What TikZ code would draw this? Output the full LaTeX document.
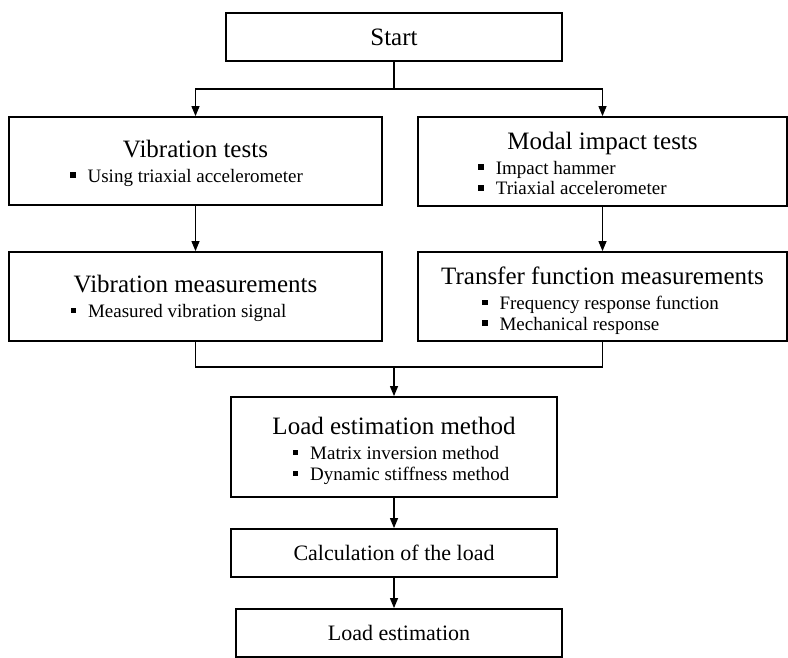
\documentclass[tikz,border=0pt]{standalone}
\usepackage{fontspec}
\setmainfont{Liberation Serif}
\usetikzlibrary{arrows.meta}
\newcommand\headsize{\fontsize{25}{28}\selectfont}
\newcommand\plainsize{\fontsize{22}{25}\selectfont}
\newcommand\pointsize{\fontsize{19}{22}\selectfont}
\newcommand\sqpoint{\rule[0.22em]{5.5pt}{5.5pt}\hspace{12pt}}
\newcommand\pointlist[2][0pt]{\hspace*{#1}\raisebox{0pt}[\height][\dimexpr\depth-10pt\relax]{\pointsize\renewcommand\arraystretch{0.95}\begin{tabular}[t]{@{}l@{}}#2\end{tabular}}}
\begin{document}
\begin{tikzpicture}[x=1pt,y=-1pt]
\tikzset{
  block/.style={draw, line width=1.8pt, inner sep=0pt, align=center, font=\headsize},
  link/.style={line width=1.2pt},
  arr/.style={link, -{Triangle[length=10pt,width=8pt]}}
}
\useasboundingbox (0,0) rectangle (788,658);
\node[block, minimum width=336, minimum height=48] (start) at (394,37) {Start};
\node[block, minimum width=373, minimum height=88] (vt) at (195.5,161) {Vibration tests\\[-3pt]\pointlist[-18pt]{\sqpoint Using triaxial accelerometer}};
\node[block, minimum width=369, minimum height=89] (mi) at (602.5,161.5) {Modal impact tests\\[-3pt]\pointlist[-60pt]{\sqpoint Impact hammer\\ \sqpoint Triaxial accelerometer}};
\node[block, minimum width=373, minimum height=89] (vm) at (195.5,296.5) {Vibration measurements\\[-3pt]\pointlist[-34pt]{\sqpoint Measured vibration signal}};
\node[block, minimum width=369, minimum height=89] (tf) at (602.5,296.5) {Transfer function measurements\\[-3pt]\pointlist[-4pt]{\sqpoint Frequency response function\\ \sqpoint Mechanical response}};
\node[block, minimum width=326, minimum height=100] (lem) at (394,447) {Load estimation method\\[-3pt]\pointlist[14pt]{\sqpoint Matrix inversion method\\ \sqpoint Dynamic stiffness method}};
\node[block, minimum width=326, minimum height=48, font=\plainsize] (calc) at (394,553) {Calculation of the load};
\node[block, minimum width=326, minimum height=48, font=\plainsize] (le) at (399,633) {Load estimation};
\coordinate (split) at (394,89);
\coordinate (join) at (394,367);
\draw[link] (start.south) -- (split);
\draw[arr] (split) -| (vt.north);
\draw[arr] (split) -| (mi.north);
\draw[arr] (vt) -- (vm);
\draw[arr] (mi) -- (tf);
\draw[link] (vm.south) |- (join) -| (tf.south);
\draw[arr] (join) -- (lem.north);
\draw[arr] (lem) -- (calc);
\draw[arr] (calc.south) -- (calc.south |- le.north);
\end{tikzpicture}
\end{document}
